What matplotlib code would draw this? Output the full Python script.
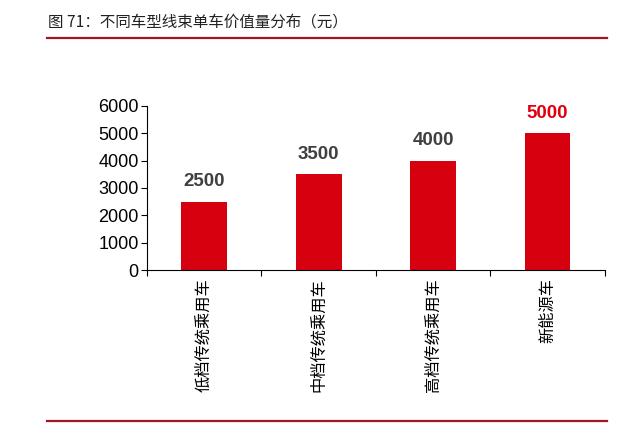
import matplotlib
matplotlib.use("Agg")
import matplotlib.pyplot as plt
from matplotlib.lines import Line2D

categories = ["低档传统乘用车", "中档传统乘用车", "高档传统乘用车", "新能源车"]
values = [2500, 3500, 4000, 5000]
yticks = [0, 1000, 2000, 3000, 4000, 5000, 6000]
title = "图 71：不同车型线束单车价值量分布（元）"

plt.rcParams['font.family'] = ['Liberation Sans', 'Noto Sans CJK SC', 'DejaVu Sans']

fig = plt.figure(figsize=(6.38, 4.25), dpi=100)
ax = fig.add_axes([0.2304, 0.3647, 0.948 - 0.2304, 0.3859])

bar_color = "#d7000f"
x = list(range(len(categories)))
ax.bar(x, values, width=0.4, color=bar_color)
ax.set_xlim(-0.5, len(categories) - 0.5)
ax.set_ylim(0, 6000)
ax.set_yticks(yticks)
ax.set_yticklabels([str(v) for v in yticks], fontsize=13)
ax.tick_params(axis='y', length=4, width=0.8, pad=2, direction='out')

ax.set_xticks(x)
ax.set_xticklabels(categories, rotation=90, fontsize=11.7,
                   family=['Noto Sans CJK SC', 'DejaVu Sans'], va='top')
ax.tick_params(axis='x', length=0, pad=6)
# boundary ticks
ax.set_xticks([i - 0.5 for i in range(len(categories) + 1)], minor=True)
ax.tick_params(axis='x', which='minor', length=4, width=0.8, direction='out')

for s in ['top', 'right']:
    ax.spines[s].set_visible(False)
for s in ['left', 'bottom']:
    ax.spines[s].set_linewidth(0.8)

for i, v in enumerate(values):
    c = "#e00010" if i == len(values) - 1 else "#404040"
    ax.text(i, v + 420, str(v), ha='center', va='bottom', fontsize=13.5,
            fontweight='bold', color=c)

fig.text(48 / 638, 1 - 22 / 425, title, fontsize=11.2, va='center', ha='left',
         family=['Noto Sans CJK SC', 'DejaVu Sans'], color="#222222")
line_color = "#a3161f"
fig.add_artist(Line2D([47 / 638, 607 / 638], [1 - 38 / 425, 1 - 38 / 425],
                      color=line_color, linewidth=1.6, transform=fig.transFigure))
fig.add_artist(Line2D([47 / 638, 607 / 638], [1 - 421 / 425, 1 - 421 / 425],
                      color=line_color, linewidth=1.6, transform=fig.transFigure))

fig.savefig("out.png", dpi=100)
